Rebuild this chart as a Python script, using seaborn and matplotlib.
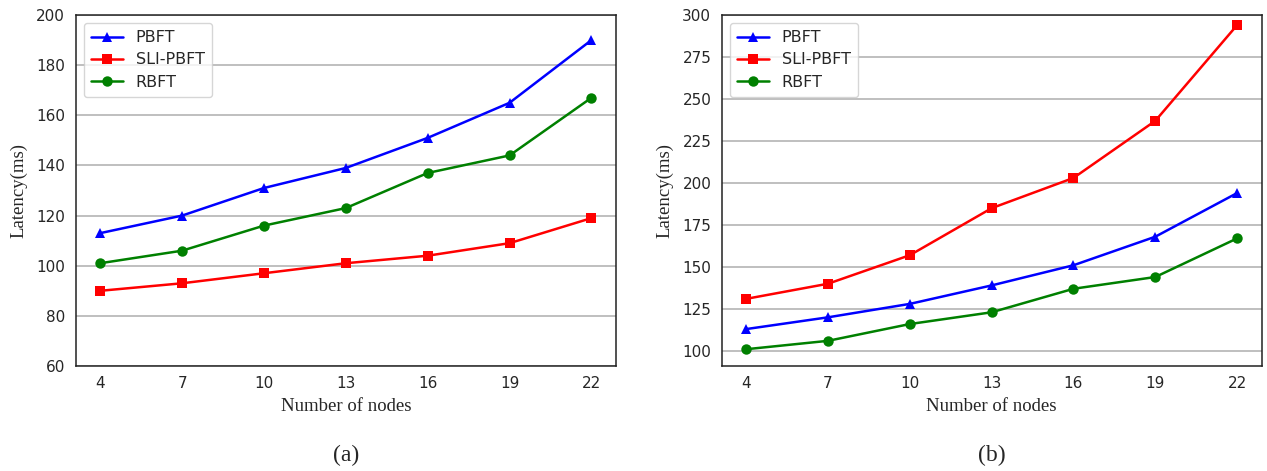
import pandas as pd
import matplotlib.pyplot as plt
import seaborn as sns

# --- Datos ---
NODES = [4, 7, 10, 13, 16, 19, 22]
SERIES = ['PBFT', 'SLI-PBFT', 'RBFT']

# panel (a)
PBFT_A = [113, 120, 131, 139, 151, 165, 190]
SLI_A = [90, 93, 97, 101, 104, 109, 119]
RBFT_A = [101, 106, 116, 123, 137, 144, 167]

# panel (b)
PBFT_B = [113, 120, 128, 139, 151, 168, 194]
SLI_B = [131, 140, 157, 185, 203, 237, 294]
RBFT_B = [101, 106, 116, 123, 137, 144, 167]

COLORS = {'PBFT': 'blue', 'SLI-PBFT': 'red', 'RBFT': 'green'}
MARKERS = {'PBFT': '^', 'SLI-PBFT': 's', 'RBFT': 'o'}


def build_df(pbft, sli, rbft):
    rows = []
    for name, vals in zip(SERIES, [pbft, sli, rbft]):
        for n, v in zip(NODES, vals):
            rows.append({'nodes': n, 'latency': v, 'algo': name})
    return pd.DataFrame(rows)


def draw_panel(ax, df, ylim, yticks, caption):
    sns.lineplot(data=df, x='nodes', y='latency', hue='algo', style='algo',
                 hue_order=SERIES, style_order=SERIES,
                 palette=COLORS, markers=MARKERS, dashes=False,
                 linewidth=1.8, markersize=7.5, markeredgewidth=0, ax=ax)
    ax.set_xticks(NODES)
    ax.set_ylim(*ylim)
    ax.set_yticks(yticks)
    ax.tick_params(labelsize=11, length=4, width=1, direction='out')
    ax.yaxis.grid(True, color='#b4b4b4', linewidth=1.2)
    ax.xaxis.grid(False)
    ax.set_axisbelow(True)
    for s in ax.spines.values():
        s.set_color('#222222')
        s.set_linewidth(1.1)
    ax.set_xlabel('Number of nodes', family='Liberation Serif', fontsize=13.5, labelpad=5)
    ax.set_ylabel('Latency(ms)', family='Liberation Serif', fontsize=13.5, labelpad=6)
    ax.legend(loc='upper left', fontsize=11.5, frameon=True, framealpha=0.8,
              edgecolor='#cccccc', handlelength=2.0, borderpad=0.45, labelspacing=0.45)
    ax.text(0.5, -0.254, caption, transform=ax.transAxes, ha='center', va='center',
            family='Liberation Serif', fontsize=17)


sns.set_style('white')
plt.rcParams['font.family'] = ['DejaVu Sans']

fig = plt.figure(figsize=(12.67, 4.71), dpi=100)
ax_a = fig.add_axes([0.0597, 0.2229, 0.4265, 0.7452])
ax_b = fig.add_axes([0.5696, 0.2229, 0.4262, 0.7452])

draw_panel(ax_a, build_df(PBFT_A, SLI_A, RBFT_A), (60, 200), range(60, 201, 20), '(a)')
draw_panel(ax_b, build_df(PBFT_B, SLI_B, RBFT_B), (91, 300), range(100, 301, 25), '(b)')

fig.savefig('out.png', dpi=100)
